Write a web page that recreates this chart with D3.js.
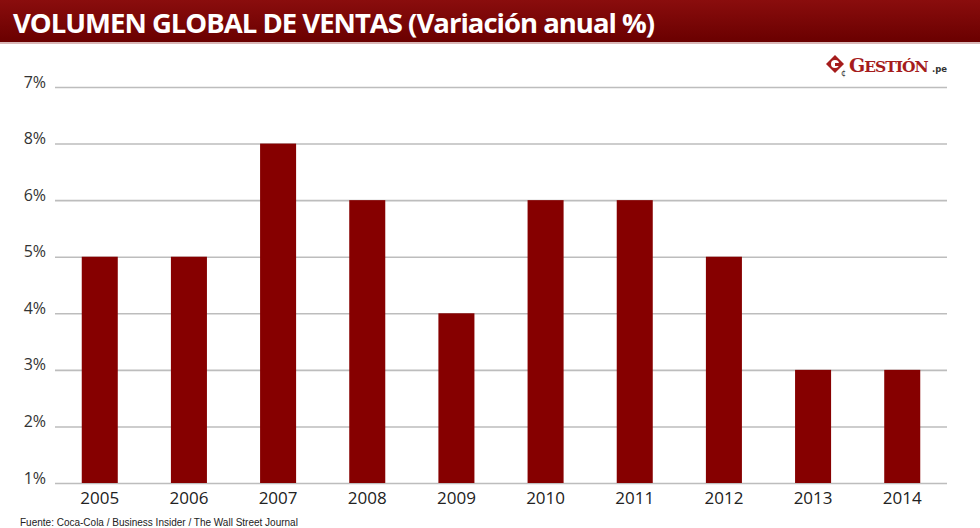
<!DOCTYPE html>
<html><head><meta charset="utf-8">
<script src="https://cdn.jsdelivr.net/npm/d3@7"></script>
<style>body{margin:0;background:#fff}svg{display:block}</style>
</head><body>
<svg id="c" width="980" height="528"></svg>
<script>
// Data
const years = ["2005","2006","2007","2008","2009","2010","2011","2012","2013","2014"];
const values = ["5%","5%","8%","6%","4%","6%","6%","5%","3%","3%"]; // level reached by each bar (gridline label)
const tickLabels = ["1%","2%","3%","4%","5%","6%","8%","7%"]; // axis labels bottom to top, as printed
const title = "VOLUMEN GLOBAL DE VENTAS (Variación anual %)";
const source = "Fuente: Coca-Cola / Business Insider / The Wall Street Journal";

const svg = d3.select("#c");
const defs = svg.append("defs");
const g = defs.append("linearGradient").attr("id","hdr").attr("x1",0).attr("y1",0).attr("x2",0).attr("y2",1);
g.append("stop").attr("offset","0%").attr("stop-color","#8a0d0d");
g.append("stop").attr("offset","100%").attr("stop-color","#6a0000");

// Header
svg.append("rect").attr("x",0).attr("y",0).attr("width",980).attr("height",42).attr("fill","url(#hdr)");
svg.append("rect").attr("x",0).attr("y",42).attr("width",980).attr("height",2).attr("fill","#d9b8b8");
svg.append("text").attr("x",13).attr("y",33).attr("fill","#fff")
  .attr("font-family","'Open Sans', 'DejaVu Sans', sans-serif").attr("font-weight","700")
  .attr("font-size",27.5).attr("letter-spacing","-1").text(title);

// Logo
const logo = svg.append("g").attr("transform","translate(826,55)");
logo.append("path").attr("d","M9,0 L18,9 L9,18 L0,9 Z").attr("fill","#a51c1c");
logo.append("circle").attr("cx",9).attr("cy",9).attr("r",4).attr("fill","#fff");
logo.append("rect").attr("x",9).attr("y",8).attr("width",6).attr("height",3).attr("fill","#a51c1c");
logo.append("text").attr("x",15).attr("y",21).attr("font-size",8).attr("fill","#333").attr("font-family","DejaVu Sans").text("¢");
logo.append("text").attr("x",23).attr("y",17).attr("fill","#a51c1c")
  .attr("font-family","'DejaVu Serif', serif").attr("font-weight","700").attr("font-size",19)
  .attr("letter-spacing","-1")
  .html('G<tspan font-size="15.5">ESTIÓN</tspan>');
logo.append("text").attr("x",106).attr("y",17).attr("fill","#333")
  .attr("font-family","'DejaVu Sans', sans-serif").attr("font-weight","700").attr("font-size",8.5).text(".pe");

// Scales
const x = d3.scaleBand().domain(years).range([55,947]).paddingInner(0.596).paddingOuter(0.3);
const y = d3.scalePoint().domain(tickLabels).range([483,87]);

// Gridlines + labels
const yAxis = d3.axisLeft(y).tickSize(-892).tickPadding(9);
const ya = svg.append("g").attr("transform","translate(55,0)").call(yAxis);
ya.select(".domain").remove();
ya.selectAll(".tick line").attr("stroke","#bdbdbd").attr("stroke-width",1.6);
ya.selectAll(".tick text").attr("fill","#333").attr("font-size",16)
  .attr("font-family","'Open Sans', 'DejaVu Sans', sans-serif").attr("dy","0");

// Bars
svg.append("g").selectAll("rect").data(years).join("rect")
  .attr("x",d=>x(d)).attr("width",x.bandwidth())
  .attr("y",(d,i)=>y(values[i]))
  .attr("height",(d,i)=>y(tickLabels[0])-y(values[i]))
  .attr("fill","#860000");

// X axis labels
const xAxis = d3.axisBottom(x).tickSize(0).tickPadding(8);
const xa = svg.append("g").attr("transform","translate(0,484)").call(xAxis);
xa.select(".domain").remove();
xa.selectAll(".tick text").attr("fill","#222").attr("font-size",17)
  .attr("font-family","'Open Sans', 'DejaVu Sans', sans-serif");

// Source
svg.append("text").attr("x",20).attr("y",526).attr("fill","#222")
  .attr("font-family","'Liberation Sans', Arial, sans-serif").attr("font-size",10)
  .text(source);
</script>
</body></html>
